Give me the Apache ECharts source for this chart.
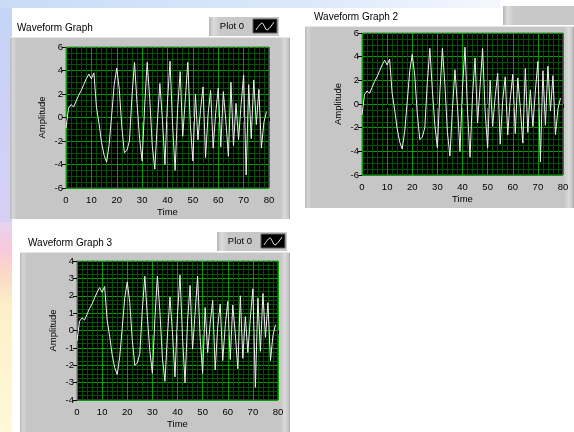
<!DOCTYPE html>
<html>
<head>
<meta charset="utf-8">
<script src="https://cdn.jsdelivr.net/npm/echarts@6/dist/echarts.min.js"></script>
<style>
html,body{margin:0;padding:0;background:#fff;}
#chart{width:574px;height:432px;}
</style>
</head>
<body>
<div id="chart"></div>
<script>
// ---- data ----
const timeTicks = [0, 10, 20, 30, 40, 50, 60, 70, 80];
const ampTicks = [-6, -4, -2, 0, 2, 4, 6];
const ampTicks3 = [-4, -3, -2, -1, 0, 1, 2, 3, 4];
const graphTitles = ['Waveform Graph', 'Waveform Graph 2', 'Waveform Graph 3'];
const plotName = 'Plot 0';
// Waveform Graph and Waveform Graph 2 show the same waveform (t = 0..79)
const waveformValues = [
  -0.9, 0.8, 1.1, 0.9, 1.4, 1.9, 2.3, 2.8, 3.3, 3.7,
  3.3, 3.8, 0.9, -0.5, -2.1, -3.2, -3.8, -2.3, 0.2, 2.8,
  4.2, 2.4, -0.8, -3.0, -2.8, -2.0, 1.8, 4.7, 1.2, -1.8,
  -3.7, 1.0, 4.7, 1.6, -2.4, -4.4, -0.4, 2.9, -0.2, -4.0,
  1.4, 4.8, -0.6, -4.5, 0.8, 3.9, -1.6, 1.5, 4.7, -0.6,
  -3.7, 2.0, -1.9, 0.6, 2.6, -3.4, 0.3, 2.3, -2.6, 0.4,
  2.5, -2.5, 2.2, -0.3, -3.3, 3.0, -2.4, 1.2, -1.9, 1.1,
  3.6, -4.9, 2.8, -1.8, 3.2, -0.6, 2.4, -2.6, -0.4, 0.5
];
// Waveform Graph 3 (smaller amplitude)
const waveform3Values = [
  -0.6, 0.53, 0.73, 0.6, 0.93, 1.27, 1.53, 1.87, 2.2, 2.47,
  2.2, 2.53, 0.6, -0.33, -1.4, -2.13, -2.53, -1.53, 0.13, 1.87,
  2.8, 1.6, -0.53, -2.0, -1.87, -1.33, 1.2, 3.13, 0.8, -1.2,
  -2.47, 0.67, 3.13, 1.07, -1.6, -2.93, -0.27, 1.93, -0.13, -2.67,
  0.93, 3.2, -0.4, -3.0, 0.53, 2.6, -1.07, 1.0, 3.13, -0.4,
  -2.47, 1.33, -1.27, 0.4, 1.73, -2.27, 0.2, 1.53, -1.73, 0.27,
  1.67, -1.67, 1.47, -0.2, -2.2, 2.0, -1.6, 0.8, -1.27, 0.73,
  2.4, -3.27, 1.87, -1.2, 2.13, -0.4, 1.6, -1.73, -0.27, 0.33
];

const FONT = 'Liberation Sans';
const chart = echarts.init(document.getElementById('chart'), null, {renderer: 'canvas'});

function toPairs(arr) { return arr.map((v, i) => [i, v]); }

function xAx(gi) {
  return {
    type: 'value', gridIndex: gi,
    min: timeTicks[0], max: timeTicks[timeTicks.length - 1], interval: timeTicks[1] - timeTicks[0],
    name: 'Time', nameLocation: 'middle', nameGap: 19,
    nameTextStyle: {fontFamily: FONT, fontSize: 9.5, color: '#000'},
    axisLine: {show: false},
    axisTick: {show: true, length: 4, lineStyle: {color: '#000', width: 1}},
    axisLabel: {fontFamily: FONT, fontSize: 9.5, color: '#000', margin: 7},
    splitLine: {show: true, lineStyle: {color: '#00a000', width: 1}},
    minorTick: {show: false, splitNumber: 5},
    minorSplitLine: {show: true, lineStyle: {color: '#005200', width: 1}}
  };
}
function yAx(gi, ticks) {
  return {
    type: 'value', gridIndex: gi,
    min: ticks[0], max: ticks[ticks.length - 1], interval: ticks[1] - ticks[0],
    name: 'Amplitude', nameLocation: 'middle', nameGap: 19, nameRotate: 90,
    nameTextStyle: {fontFamily: FONT, fontSize: 9.5, color: '#000'},
    axisLine: {show: false},
    axisTick: {show: true, length: 4, lineStyle: {color: '#000', width: 1}},
    axisLabel: {fontFamily: FONT, fontSize: 9.5, color: '#000', margin: 3},
    splitLine: {show: true, lineStyle: {color: '#00a000', width: 1}},
    minorTick: {show: false, splitNumber: 4},
    minorSplitLine: {show: true, lineStyle: {color: '#005200', width: 1}}
  };
}

function panel(x, y, w, h) {
  return [
    {type: 'rect', z: -20, shape: {x: x, y: y, width: w, height: h}, style: {fill: '#c6c6c6'}},
    {type: 'rect', z: -19, shape: {x: x, y: y, width: 7, height: h},
      style: {fill: new echarts.graphic.LinearGradient(0, 0, 1, 0, [{offset: 0, color: '#b8b8b8'}, {offset: 0.4, color: '#d6d6d6'}, {offset: 1, color: '#c6c6c6'}])}},
    {type: 'rect', z: -19, shape: {x: x + w - 10, y: y, width: 10, height: h},
      style: {fill: new echarts.graphic.LinearGradient(0, 0, 1, 0, [{offset: 0, color: '#c6c6c6'}, {offset: 0.5, color: '#dadada'}, {offset: 0.85, color: '#c4c4c4'}, {offset: 1, color: '#a0a0a0'}])}},
    {type: 'line', z: -18, shape: {x1: x, y1: y + 0.5, x2: x + w, y2: y + 0.5}, style: {stroke: '#e6e6e6', lineWidth: 1}}
  ];
}
function legendBox(x, y, w, h, withText) {
  const els = [
    {type: 'rect', z: -20, shape: {x: x, y: y, width: w, height: h},
      style: {fill: new echarts.graphic.LinearGradient(0, 0, 1, 0, [{offset: 0, color: '#b4b4b4'}, {offset: 0.06, color: '#dcdcdc'}, {offset: 0.16, color: '#c8c8c8'}, {offset: 1, color: '#c8c8c8'}])}}
  ];
  if (withText) {
    els.push({type: 'text', z: 50, style: {x: x + 23, y: y + h / 2, text: plotName, fontFamily: FONT, fontSize: 9.5, fill: '#000', align: 'center', verticalAlign: 'middle'}});
    const ix = x + w - 26, iy = y + 2, iw = 24, ih = h - 5;
    els.push({type: 'rect', z: 50, shape: {x: ix, y: iy, width: iw, height: ih}, style: {fill: '#000', stroke: '#606060', lineWidth: 1}});
    els.push({type: 'polyline', z: 51, shape: {points: [[ix + 3, iy + ih - 3], [ix + 9, iy + 4], [ix + 14, iy + ih - 3], [ix + 21, iy + 3]], smooth: 0.3},
      style: {stroke: '#fff', lineWidth: 1, fill: null}});
  }
  return els;
}
function title(x, y, t) {
  return {type: 'text', z: 50, style: {x: x, y: y, text: t, fontFamily: FONT, fontSize: 10, fill: '#000', align: 'left', verticalAlign: 'middle'}};
}

const bgEls = [
  // slide background decorations
  {type: 'rect', z: -40, shape: {x: 0, y: 0, width: 12, height: 222},
    style: {fill: new echarts.graphic.LinearGradient(0, 0, 0, 1, [{offset: 0, color: '#c4d6f6'}, {offset: 0.5, color: '#cdd0f8'}, {offset: 1, color: '#d8d0f4'}])}},
  {type: 'rect', z: -40, shape: {x: 0, y: 222, width: 12, height: 210},
    style: {fill: new echarts.graphic.LinearGradient(0, 0, 0, 1, [{offset: 0, color: '#e8d4f0'}, {offset: 0.12, color: '#f8c8dc'}, {offset: 0.25, color: '#fbd8c8'}, {offset: 0.4, color: '#fdf0c8'}, {offset: 1, color: '#fff8d8'}])}},
  {type: 'rect', z: -40, shape: {x: 0, y: 0, width: 500, height: 8},
    style: {fill: new echarts.graphic.LinearGradient(0, 0, 1, 0, [{offset: 0, color: '#c8dcf8'}, {offset: 0.6, color: '#dbe8fa'}, {offset: 1, color: '#f4f8fe'}])}}
];

const graphics = [].concat(
  bgEls,
  panel(10, 37, 280, 182),
  legendBox(209, 17, 70, 19, true),
  [title(17, 28, graphTitles[0])],
  panel(305, 26, 269, 182),
  legendBox(503, 6, 71, 19, false),
  [title(314, 17, graphTitles[1])],
  panel(20, 252, 270, 180),
  legendBox(217, 232, 70, 19, true),
  [title(28, 243, graphTitles[2])]
);

const lineStyle = {color: '#f0f0f0', width: 1};
const option = {
  animation: false,
  backgroundColor: '#ffffff',
  grid: [
    {left: 66, top: 47, width: 203, height: 141, show: true, backgroundColor: '#000', borderColor: '#707070', borderWidth: 1, containLabel: false},
    {left: 362, top: 33, width: 201, height: 142, show: true, backgroundColor: '#000', borderColor: '#707070', borderWidth: 1, containLabel: false},
    {left: 77, top: 261, width: 201, height: 139, show: true, backgroundColor: '#000', borderColor: '#707070', borderWidth: 1, containLabel: false}
  ],
  xAxis: [xAx(0), xAx(1), xAx(2)],
  yAxis: [yAx(0, ampTicks), yAx(1, ampTicks), yAx(2, ampTicks3)],
  series: [
    {type: 'line', name: plotName, xAxisIndex: 0, yAxisIndex: 0, data: toPairs(waveformValues), showSymbol: false, lineStyle: lineStyle, z: 5},
    {type: 'line', name: plotName, xAxisIndex: 1, yAxisIndex: 1, data: toPairs(waveformValues), showSymbol: false, lineStyle: lineStyle, z: 5},
    {type: 'line', name: plotName, xAxisIndex: 2, yAxisIndex: 2, data: toPairs(waveform3Values), showSymbol: false, lineStyle: lineStyle, z: 5}
  ],
  graphic: {elements: graphics}
};
chart.setOption(option);
</script>
</body>
</html>
